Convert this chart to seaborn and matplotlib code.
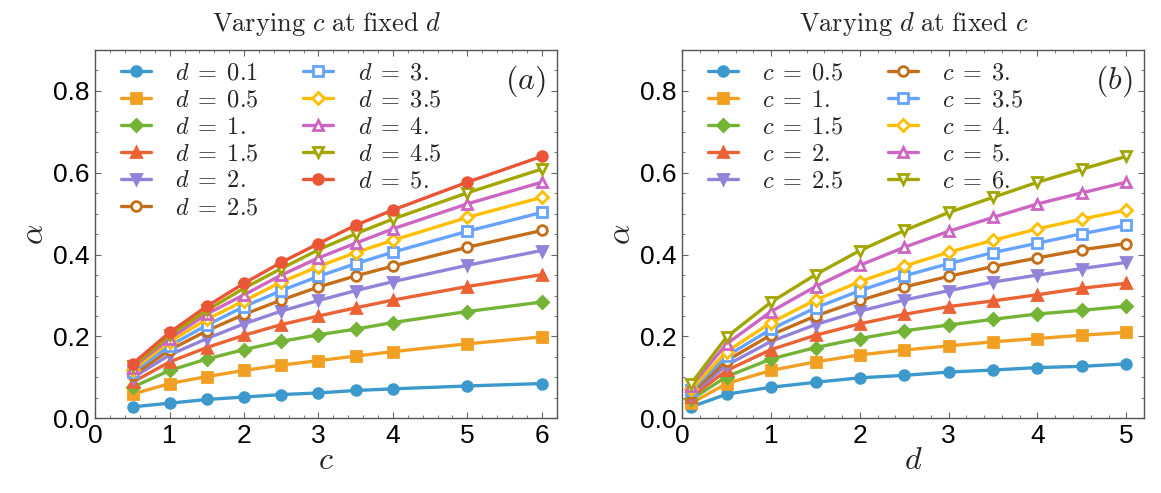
import numpy as np
import pandas as pd
import matplotlib
matplotlib.use("Agg")
import matplotlib.pyplot as plt
import matplotlib.ticker as mtick
import seaborn as sns

# grid of parameters
C_VALUES = [0.5, 1, 1.5, 2, 2.5, 3, 3.5, 4, 5, 6]
D_VALUES = [0.1, 0.5, 1, 1.5, 2, 2.5, 3, 3.5, 4, 4.5, 5]
C_LABELS = ["0.5", "1.", "1.5", "2.", "2.5", "3.", "3.5", "4.", "5.", "6."]
D_LABELS = ["0.1", "0.5", "1.", "1.5", "2.", "2.5", "3.", "3.5", "4.", "4.5", "5."]

# alpha(c, d): one row per c value, one column per d value
ALPHA = [
    [0.028, 0.059, 0.076, 0.088, 0.099, 0.105, 0.113, 0.118, 0.124, 0.127, 0.133],
    [0.037, 0.085, 0.117, 0.138, 0.155, 0.167, 0.177, 0.187, 0.195, 0.203, 0.210],
    [0.046, 0.102, 0.145, 0.173, 0.195, 0.214, 0.228, 0.242, 0.255, 0.264, 0.274],
    [0.052, 0.117, 0.168, 0.203, 0.231, 0.254, 0.273, 0.287, 0.302, 0.318, 0.330],
    [0.058, 0.130, 0.188, 0.229, 0.262, 0.289, 0.312, 0.333, 0.350, 0.366, 0.381],
    [0.062, 0.141, 0.204, 0.250, 0.288, 0.321, 0.347, 0.371, 0.392, 0.412, 0.427],
    [0.068, 0.152, 0.218, 0.270, 0.312, 0.348, 0.378, 0.405, 0.428, 0.451, 0.472],
    [0.072, 0.163, 0.234, 0.289, 0.334, 0.372, 0.406, 0.435, 0.463, 0.487, 0.509],
    [0.079, 0.182, 0.261, 0.322, 0.374, 0.418, 0.457, 0.491, 0.524, 0.551, 0.577],
    [0.085, 0.199, 0.284, 0.351, 0.410, 0.459, 0.503, 0.540, 0.577, 0.609, 0.640],
]

COLORS = ["#3d99cc", "#f2a024", "#74b336", "#eb6235", "#9382d9", "#c56e1a",
          "#66a3ff", "#ffbf00", "#cc66c2", "#a2a600", "#e95536"]
MARKERS = ["o", "s", "D", "^", "v", "o", "s", "D", "^", "v", "o"]
OPEN    = [False] * 5 + [True] * 5 + [False]

sns.set_style("ticks")
plt.rcParams.update({
    "font.family": ["Liberation Sans", "DejaVu Sans"],
    "mathtext.fontset": "cm",
    "axes.edgecolor": "#555555",
    "axes.linewidth": 1.0,
    "xtick.color": "#666666",
    "ytick.color": "#666666",
    "xtick.labelcolor": "black",
    "ytick.labelcolor": "black",
})

# long table, shared by both panels
rows = []
for i, c in enumerate(C_VALUES):
    for j, d in enumerate(D_VALUES):
        rows.append({"c": c, "d": d, "alpha": ALPHA[i][j],
                     "c_lab": C_LABELS[i], "d_lab": D_LABELS[j]})
df = pd.DataFrame(rows)


def draw_panel(ax, xvar, svar, slabels, title, tag, xmax):
    for k, lab in enumerate(slabels):
        sub = df[df[svar + "_lab"] == lab]
        col = COLORS[k]
        msize = 7 if MARKERS[k] != "D" else 6
        sns.lineplot(data=sub, x=xvar, y="alpha", ax=ax, color=col,
                     marker=MARKERS[k], markersize=msize, linewidth=2.4,
                     markerfacecolor="white" if OPEN[k] else col,
                     markeredgecolor=col, markeredgewidth=2.0,
                     errorbar=None, label=rf"${svar}\;=\;{lab}$")
    ax.set_xlim(0, xmax)
    ax.set_ylim(0, 0.9)
    ax.xaxis.set_major_locator(mtick.MultipleLocator(1))
    ax.xaxis.set_minor_locator(mtick.MultipleLocator(0.2))
    ax.yaxis.set_major_locator(mtick.MultipleLocator(0.2))
    ax.yaxis.set_minor_locator(mtick.MultipleLocator(0.05))
    ax.xaxis.set_major_formatter(mtick.FormatStrFormatter("%d"))
    ax.yaxis.set_major_formatter(mtick.FormatStrFormatter("%.1f"))
    ax.tick_params(which="both", direction="in", top=True, right=True)
    ax.tick_params(which="major", length=4.5, labelsize=19, pad=4)
    ax.tick_params(which="minor", length=2.5)
    for s in ax.spines.values():
        s.set_visible(True)
    ax.set_xlabel(f"${xvar}$", fontsize=23, labelpad=-1)
    ax.set_ylabel(r"$\alpha$", fontsize=23, labelpad=2)
    ax.set_title(title, fontsize=19, pad=14)
    ax.text(0.975, 0.915, f"$({tag})$", transform=ax.transAxes,
            ha="right", va="center", fontsize=23)
    ax.legend(ncol=2, loc="upper left", bbox_to_anchor=(0.055, 0.965),
              frameon=False, fontsize=17.5, borderpad=0, borderaxespad=0,
              handlelength=1.25, handletextpad=1.0, columnspacing=1.8,
              labelspacing=0.2)


fig = plt.figure(figsize=(11.61, 4.93), dpi=100)
ax1 = fig.add_axes([0.0821, 0.1515, 0.3979, 0.747])
ax2 = fig.add_axes([0.5877, 0.1515, 0.3977, 0.747])

draw_panel(ax1, "c", "d", D_LABELS,
           r"$\mathrm{Varying}\ c\ \mathrm{at\ fixed}\ d$", "a", 6.21)
draw_panel(ax2, "d", "c", C_LABELS,
           r"$\mathrm{Varying}\ d\ \mathrm{at\ fixed}\ c$", "b", 5.2)

fig.savefig("out.png", dpi=100)
